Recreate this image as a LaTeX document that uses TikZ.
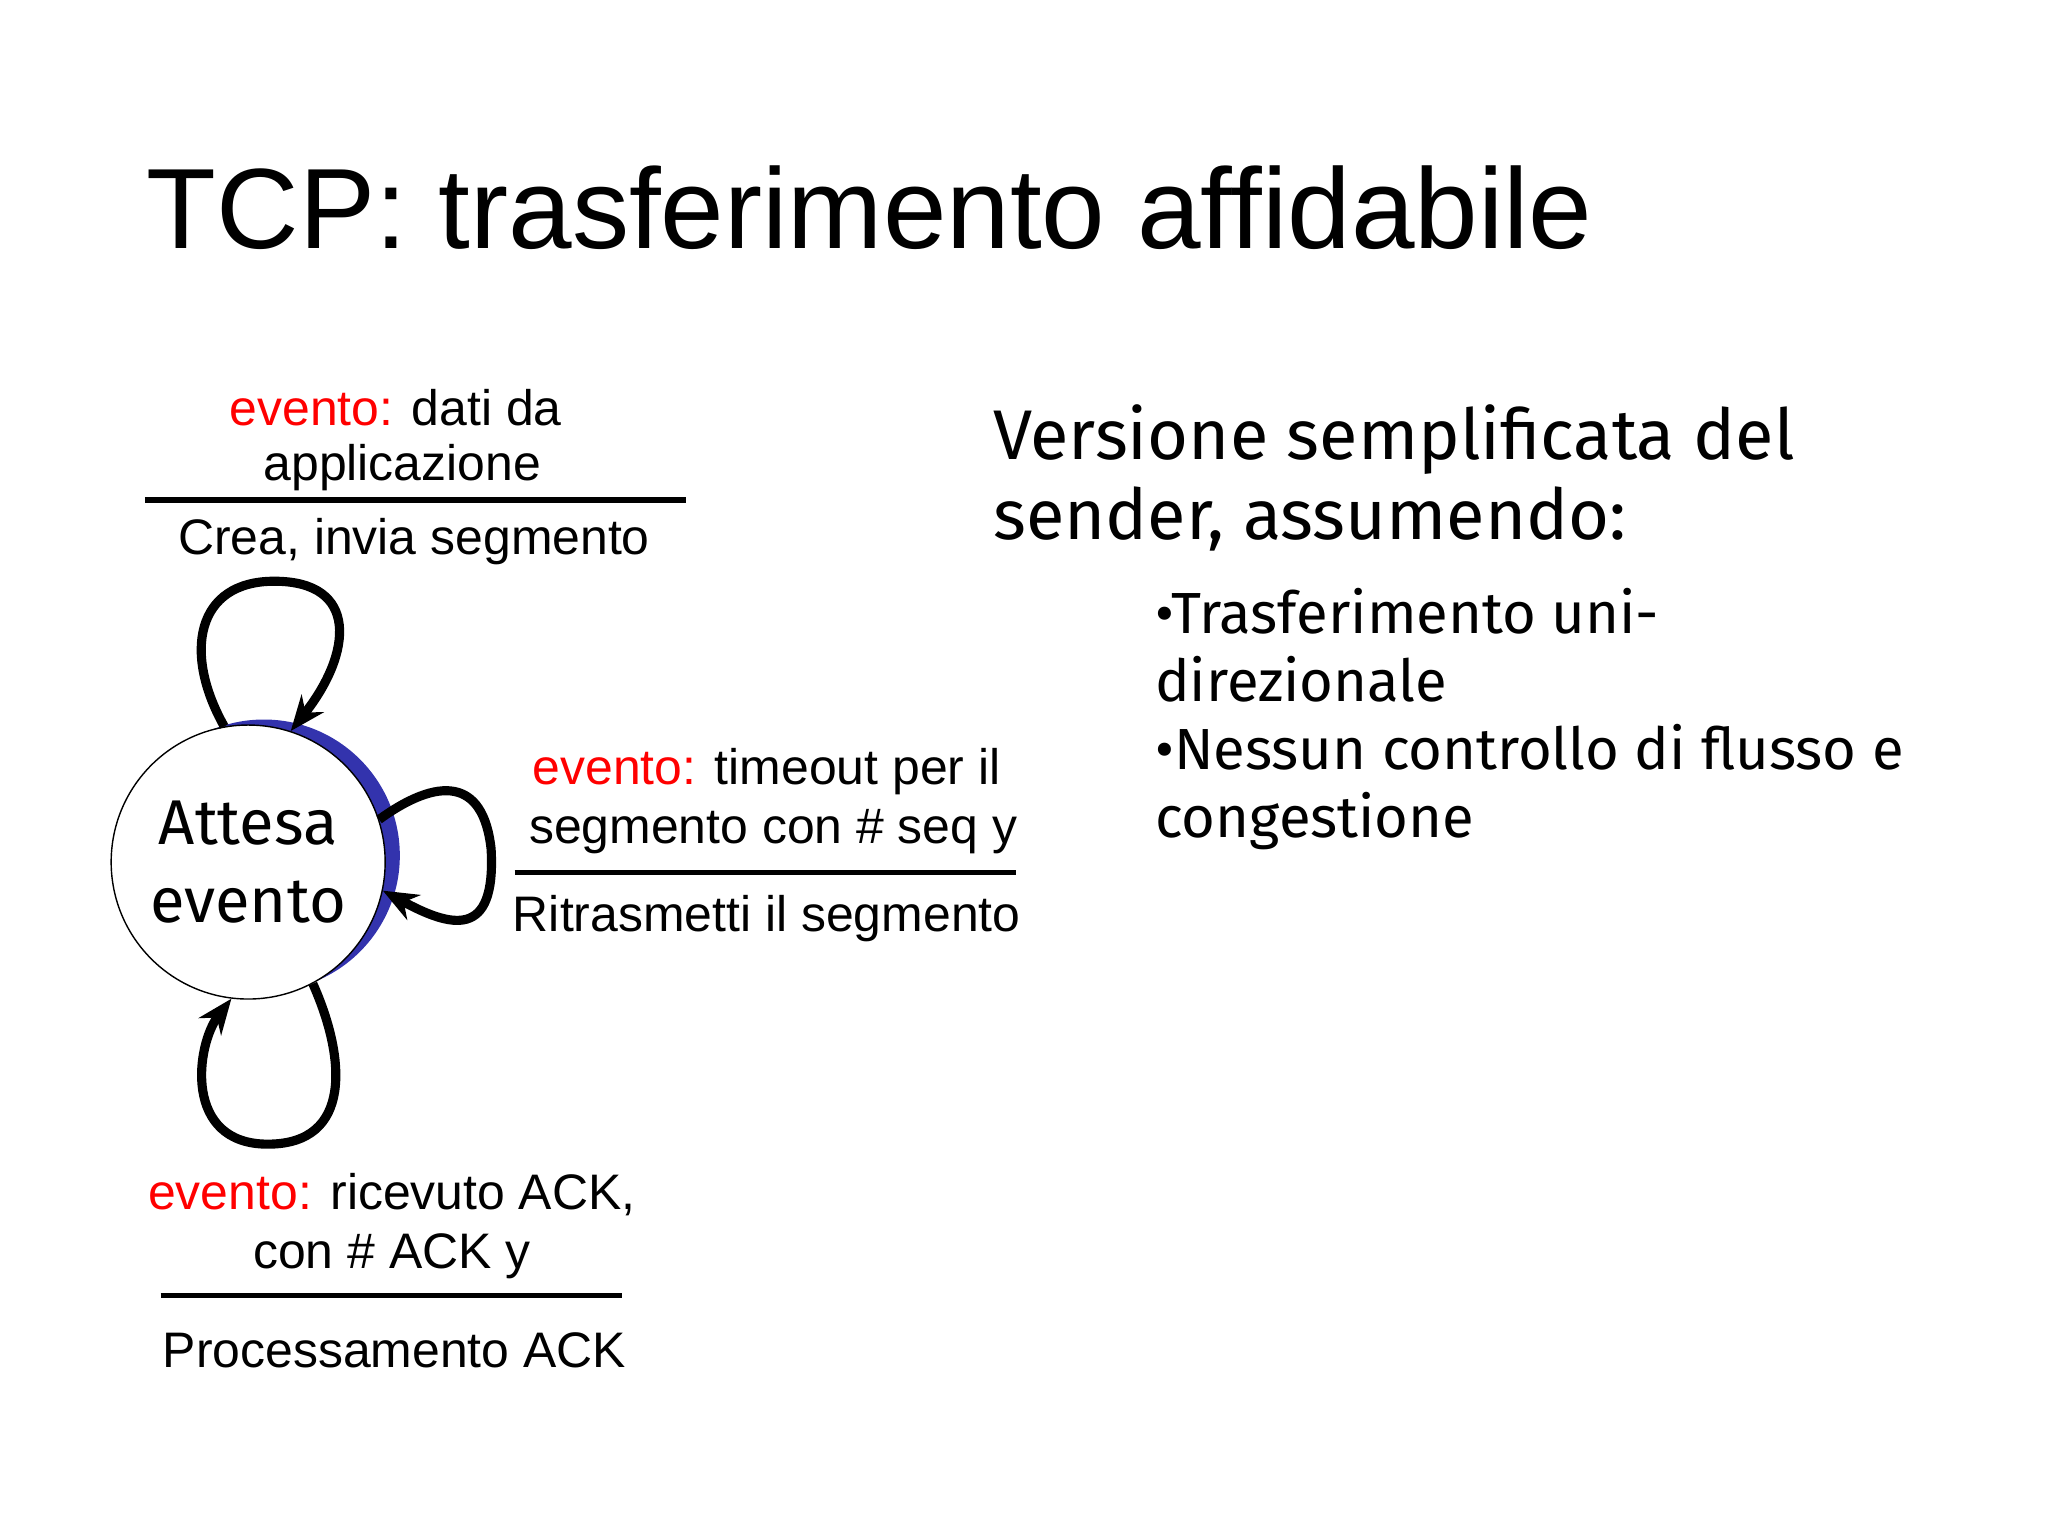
\documentclass[tikz,border=0pt]{standalone}
\usepackage{fontspec}
\setmainfont{Liberation Sans}
\newfontfamily\hand{Fira Sans}
\usetikzlibrary{arrows.meta}
\begin{document}
\begin{tikzpicture}[x=0.01306cm,y=-0.01306cm,
  lbl/.style={font=\fontsize{14.2}{16}\selectfont,inner sep=0},
  loop/.style={line width=2.6pt,-{Stealth[length=10pt,width=8pt]}},
  sep/.style={line width=1.6pt}]
\useasboundingbox (0,0) rectangle (1568,1176);
\node[anchor=base west,font=\fontsize{32.5}{40}\selectfont,inner sep=0] (title) at (112,190) {TCP: trasferimento affidabile};
\fill[blue!60!black!80] (202,655) circle[radius=1.36cm];
\node[circle,draw,fill=white,minimum size=2.74cm,inner sep=0,font=\hand\fontsize{18}{22}\selectfont,align=center] (s) at (190,660) {Attesa\\evento};
% top loop
\draw[loop] (s.100) .. controls (140,500) and (150,445) .. (210,445) .. controls (275,445) and (270,500) .. (s.72);
% right loop
\draw[loop] (s.18) .. controls (335,595) and (370,595) .. (376,650) .. controls (380,720) and (345,710) .. (s.-12);
% bottom loop
\draw[loop] (s.-62) .. controls (265,810) and (270,876) .. (205,876) .. controls (140,876) and (150,800) .. (s.-97);
% labels
\node[lbl] (t1) at (303,312) {\textcolor{red}{evento:} dati da};
\node[lbl] (t2) at (308,358) {applicazione};
\coordinate (l1a) at (111,383); \coordinate (l1b) at (525,383);
\draw[sep] (l1a) -- (l1b);
\node[lbl] (t3) at (317,415) {Crea, invia segmento};
\node[lbl] (r1) at (587,591) {\textcolor{red}{evento:} timeout per il};
\node[lbl] (r2) at (592,637) {segmento con \# seq y};
\coordinate (l2a) at (394,668); \coordinate (l2b) at (778,668);
\draw[sep] (l2a) -- (l2b);
\node[lbl] (r3) at (587,703) {Ritrasmetti il segmento};
\node[lbl] (b1) at (300,915) {\textcolor{red}{evento:} ricevuto ACK,};
\node[lbl] (b2) at (300,962) {con \# ACK y};
\coordinate (l3a) at (123,992); \coordinate (l3b) at (476,992);
\draw[sep] (l3a) -- (l3b);
\node[lbl] (b3) at (302,1034) {Processamento ACK};
% right text
\node[anchor=base west,inner sep=0,font=\hand\fontsize{20}{30}\selectfont] (v1) at (760,352) {Versione semplificata del};
\node[anchor=base west,inner sep=0,font=\hand\fontsize{20}{30}\selectfont] (v2) at (760,413) {sender, assumendo:};
\node[anchor=base west,inner sep=0,font=\hand\fontsize{16.5}{24}\selectfont] (p1) at (884,485) {•Trasferimento uni-};
\node[anchor=base west,inner sep=0,font=\hand\fontsize{16.5}{24}\selectfont] (p2) at (884,537) {direzionale};
\node[anchor=base west,inner sep=0,font=\hand\fontsize{16.5}{24}\selectfont] (p3) at (884,589) {•Nessun controllo di flusso e};
\node[anchor=base west,inner sep=0,font=\hand\fontsize{16.5}{24}\selectfont] (p4) at (884,641) {congestione};
\end{tikzpicture}
\end{document}
